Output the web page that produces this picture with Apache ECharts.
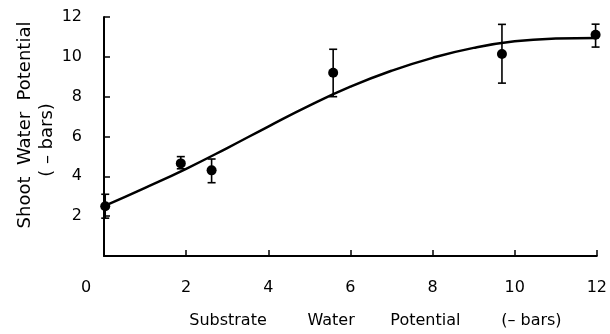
<!DOCTYPE html>
<html>
<head>
<meta charset="utf-8">
<script src="https://cdn.jsdelivr.net/npm/echarts@6/dist/echarts.min.js"></script>
<style>
html,body{margin:0;padding:0;background:#fff;}
#c{width:610px;height:334px;}
</style>
</head>
<body>
<div id="c"></div>
<script>
// Observed points
var pointX = [0.03, 1.87, 2.62, 5.58, 9.69, 11.97];
var pointY = [2.5, 4.65, 4.30, 9.20, 10.14, 11.11];
var errHigh = [3.1, 4.99, 4.87, 10.38, 11.63, 11.64];
var errLow = [1.9, 4.38, 3.68, 8.0, 8.68, 10.49];
// Fitted curve
var curveX = [0, 1, 2, 3, 4, 5, 6, 7, 8, 9, 10, 11, 12];
var curveY = [2.5, 3.42, 4.38, 5.42, 6.5, 7.55, 8.5, 9.3, 9.95, 10.45, 10.78, 10.92, 10.95];
// Tick labels
var xTicks = [0, 2, 4, 6, 8, 10, 12];
var yTicks = [2, 4, 6, 8, 10, 12];

var FONT = '"DejaVu Sans"';
var INK = '#000';

var chart = echarts.init(document.getElementById('c'));
var pts = pointX.map(function (x, i) { return [x, pointY[i]]; });
var errs = pointX.map(function (x, i) { return [x, errLow[i], errHigh[i]]; });
var curve = curveX.map(function (x, i) { return [x, curveY[i]]; });

chart.setOption({
  backgroundColor: '#fff',
  animation: false,
  grid: { left: 104, right: 13, top: 17, bottom: 71 },
  xAxis: {
    type: 'value', min: 0, max: 12, interval: 2,
    axisLine: { lineStyle: { color: INK, width: 2 } },
    axisTick: { inside: true, length: 6, lineStyle: { color: INK, width: 1.5 } },
    splitLine: { show: false },
    axisLabel: {
      margin: 24, color: INK, fontFamily: FONT, fontSize: 16,
      formatter: function (v) { return v === 0 ? '{z|0}' : String(v); },
      rich: { z: { padding: [0, 36, 0, 0], fontFamily: FONT, fontSize: 16, color: INK } }
    },
    name: 'Substrate        Water       Potential        (– bars)',
    nameLocation: 'middle', nameGap: 57,
    nameTextStyle: { color: INK, fontFamily: FONT, fontSize: 16, padding: [0, 0, 0, 50] }
  },
  yAxis: {
    type: 'value', min: 0, max: 12, interval: 2,
    axisLine: { show: true, lineStyle: { color: INK, width: 2 } },
    axisTick: { show: true, inside: true, length: 6, lineStyle: { color: INK, width: 1.5 } },
    splitLine: { show: false },
    axisLabel: {
      margin: 22, color: INK, fontFamily: FONT, fontSize: 16, showMinLabel: false,
      formatter: function (v) { return v === 0 ? '' : String(v); }
    }
  },
  graphic: [
    { type: 'text', x: 25, y: 125, rotation: Math.PI / 2,
      style: { text: 'Shoot  Water  Potential', fill: INK, font: '18px ' + FONT, align: 'center', verticalAlign: 'middle' } },
    { type: 'text', x: 47, y: 140, rotation: Math.PI / 2,
      style: { text: '( – bars)', fill: INK, font: '18px ' + FONT, align: 'center', verticalAlign: 'middle' } }
  ],
  series: [
    {
      type: 'line', data: curve, smooth: 0.5, symbol: 'none',
      lineStyle: { color: INK, width: 2.5 }, z: 2
    },
    {
      type: 'custom', data: errs, z: 3,
      renderItem: function (params, api) {
        var x = api.value(0);
        var lo = api.coord([x, api.value(1)]);
        var hi = api.coord([x, api.value(2)]);
        var w = 4;
        var st = { stroke: INK, lineWidth: 1.6 };
        return {
          type: 'group',
          children: [
            { type: 'line', shape: { x1: lo[0], y1: lo[1], x2: hi[0], y2: hi[1] }, style: st },
            { type: 'line', shape: { x1: lo[0] - w, y1: lo[1], x2: lo[0] + w, y2: lo[1] }, style: st },
            { type: 'line', shape: { x1: hi[0] - w, y1: hi[1], x2: hi[0] + w, y2: hi[1] }, style: st }
          ]
        };
      }
    },
    {
      type: 'scatter', data: pts, symbol: 'circle', symbolSize: 10, z: 4,
      itemStyle: { color: INK, opacity: 1 }
    }
  ]
});
</script>
</body>
</html>
